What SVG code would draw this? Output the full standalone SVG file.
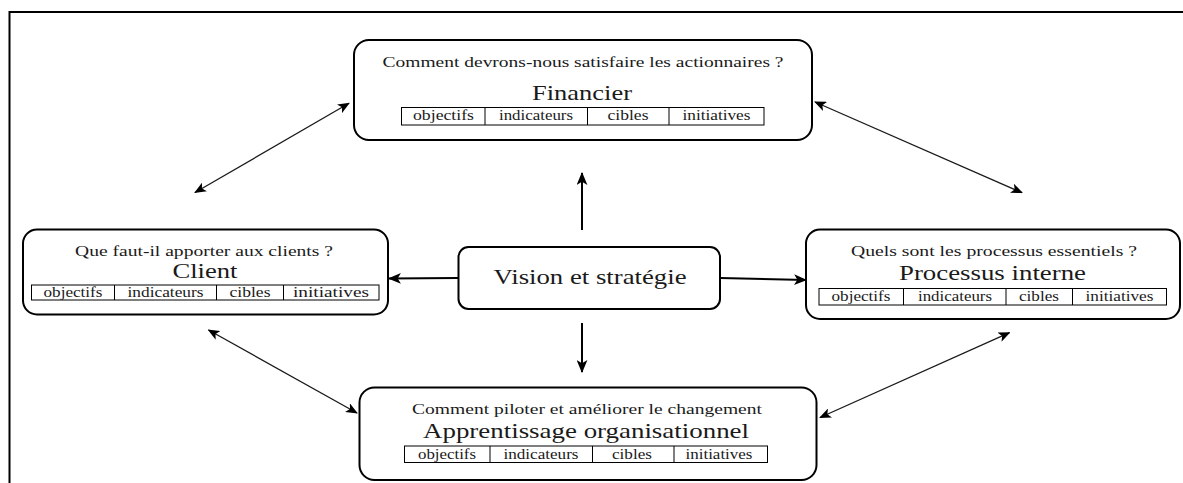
<svg xmlns="http://www.w3.org/2000/svg" width="1183" height="483" viewBox="0 0 1183 483" font-family="'Liberation Serif', 'DejaVu Serif', serif">
<style>
.box{fill:#fff;stroke:#000;stroke-width:2}
.cell{fill:none;stroke:#000;stroke-width:1}
text{font-family:'Liberation Serif','DejaVu Serif',serif;fill:#1a1a1a;text-anchor:middle}
.q{font-size:15px}
.t{font-size:22px}
.c{font-size:15px}
.thin{stroke:#1a1a1a;stroke-width:1.3;fill:none}
.thick{stroke:#000;stroke-width:2;fill:none}
</style>
<defs>
<marker id="ah" viewBox="0 0 12 10" refX="11" refY="5" markerWidth="12" markerHeight="10" markerUnits="userSpaceOnUse" orient="auto-start-reverse">
<path d="M0,0 L12,5 L0,10 L3,5 z" fill="#000"/>
</marker>
<marker id="ahb" viewBox="0 0 12 10" refX="11" refY="5" markerWidth="13" markerHeight="11" markerUnits="userSpaceOnUse" orient="auto-start-reverse">
<path d="M0,0 L12,5 L0,10 L3,5 z" fill="#000"/>
</marker>
</defs>
<rect width="1183" height="483" fill="#fff"/>
<path d="M9.5,483 L9.5,12 L1183,12" fill="none" stroke="#000" stroke-width="2"/>

<g id="connectors">
<line class="thin" x1="195" y1="192.5" x2="349" y2="103.3" marker-start="url(#ah)" marker-end="url(#ah)"/>
<line class="thin" x1="815" y1="102" x2="1022" y2="192.7" marker-start="url(#ah)" marker-end="url(#ah)"/>
<line class="thin" x1="208.5" y1="330" x2="357" y2="413" marker-start="url(#ah)" marker-end="url(#ah)"/>
<line class="thin" x1="820" y1="417.5" x2="1009.5" y2="332.7" marker-start="url(#ah)" marker-end="url(#ah)"/>
<line class="thick" x1="582" y1="230" x2="582" y2="173" marker-end="url(#ahb)"/>
<line class="thick" x1="582" y1="323" x2="582" y2="372" marker-end="url(#ahb)"/>
<line class="thick" x1="458" y1="278" x2="389" y2="278.5" marker-end="url(#ahb)"/>
<line class="thick" x1="720" y1="278" x2="806" y2="280" marker-end="url(#ahb)"/>
</g>

<g id="financier">
<rect class="box" x="354" y="40" width="458" height="100" rx="15"/>
<text class="q" x="583" y="67" textLength="401" lengthAdjust="spacingAndGlyphs">Comment devrons-nous satisfaire les actionnaires ?</text>
<text class="t" x="582" y="100" textLength="100" lengthAdjust="spacingAndGlyphs">Financier</text>
<rect class="cell" x="401.5" y="107.5" width="362.5" height="17.5"/>
<line class="cell" x1="485" y1="107.5" x2="485" y2="125"/>
<line class="cell" x1="587.5" y1="107.5" x2="587.5" y2="125"/>
<line class="cell" x1="669" y1="107.5" x2="669" y2="125"/>
<text class="c" x="443.5" y="120" textLength="61" lengthAdjust="spacingAndGlyphs">objectifs</text>
<text class="c" x="536" y="120" textLength="74" lengthAdjust="spacingAndGlyphs">indicateurs</text>
<text class="c" x="628" y="120" textLength="41" lengthAdjust="spacingAndGlyphs">cibles</text>
<text class="c" x="716.5" y="120" textLength="68" lengthAdjust="spacingAndGlyphs">initiatives</text>
</g>

<g id="client">
<rect class="box" x="23" y="229.5" width="365" height="85" rx="14"/>
<text class="q" x="204" y="256" textLength="258" lengthAdjust="spacingAndGlyphs">Que faut-il apporter aux clients ?</text>
<text class="t" x="205" y="277.5" textLength="65" lengthAdjust="spacingAndGlyphs">Client</text>
<rect class="cell" x="31.5" y="285" width="347.5" height="15"/>
<line class="cell" x1="114.5" y1="285" x2="114.5" y2="300"/>
<line class="cell" x1="216.5" y1="285" x2="216.5" y2="300"/>
<line class="cell" x1="283.5" y1="285" x2="283.5" y2="300"/>
<text class="c" x="73" y="297" textLength="59" lengthAdjust="spacingAndGlyphs">objectifs</text>
<text class="c" x="165.5" y="297" textLength="76" lengthAdjust="spacingAndGlyphs">indicateurs</text>
<text class="c" x="250" y="297" textLength="41" lengthAdjust="spacingAndGlyphs">cibles</text>
<text class="c" x="331" y="297" textLength="76" lengthAdjust="spacingAndGlyphs">initiatives</text>
</g>

<g id="processus">
<rect class="box" x="806" y="229.5" width="374" height="89.5" rx="14"/>
<text class="q" x="994" y="255.5" textLength="286" lengthAdjust="spacingAndGlyphs">Quels sont les processus essentiels ?</text>
<text class="t" x="992.5" y="279.5" textLength="187" lengthAdjust="spacingAndGlyphs">Processus interne</text>
<rect class="cell" x="819" y="288.5" width="347.5" height="16.5"/>
<line class="cell" x1="903.5" y1="288.5" x2="903.5" y2="305"/>
<line class="cell" x1="1006" y1="288.5" x2="1006" y2="305"/>
<line class="cell" x1="1072.5" y1="288.5" x2="1072.5" y2="305"/>
<text class="c" x="861" y="300.5" textLength="59" lengthAdjust="spacingAndGlyphs">objectifs</text>
<text class="c" x="955" y="300.5" textLength="74" lengthAdjust="spacingAndGlyphs">indicateurs</text>
<text class="c" x="1039" y="300.5" textLength="40" lengthAdjust="spacingAndGlyphs">cibles</text>
<text class="c" x="1119.5" y="300.5" textLength="68" lengthAdjust="spacingAndGlyphs">initiatives</text>
</g>

<g id="apprentissage">
<rect class="box" x="359.5" y="387.5" width="457" height="92.5" rx="15"/>
<text class="q" x="587" y="414" textLength="350" lengthAdjust="spacingAndGlyphs">Comment piloter et améliorer le changement</text>
<text class="t" x="586" y="437.5" textLength="326" lengthAdjust="spacingAndGlyphs">Apprentissage organisationnel</text>
<rect class="cell" x="404.5" y="446" width="363" height="16.5"/>
<line class="cell" x1="490" y1="446" x2="490" y2="462.5"/>
<line class="cell" x1="592.5" y1="446" x2="592.5" y2="462.5"/>
<line class="cell" x1="674" y1="446" x2="674" y2="462.5"/>
<text class="c" x="447" y="458.5" textLength="58" lengthAdjust="spacingAndGlyphs">objectifs</text>
<text class="c" x="541" y="458.5" textLength="75" lengthAdjust="spacingAndGlyphs">indicateurs</text>
<text class="c" x="632" y="458.5" textLength="40" lengthAdjust="spacingAndGlyphs">cibles</text>
<text class="c" x="719" y="458.5" textLength="67" lengthAdjust="spacingAndGlyphs">initiatives</text>
</g>

<g id="vision">
<rect class="box" x="458.5" y="247" width="261.5" height="62" rx="10"/>
<text class="t" x="590" y="284" font-size="21" textLength="193" lengthAdjust="spacingAndGlyphs">Vision et stratégie</text>
</g>
</svg>
